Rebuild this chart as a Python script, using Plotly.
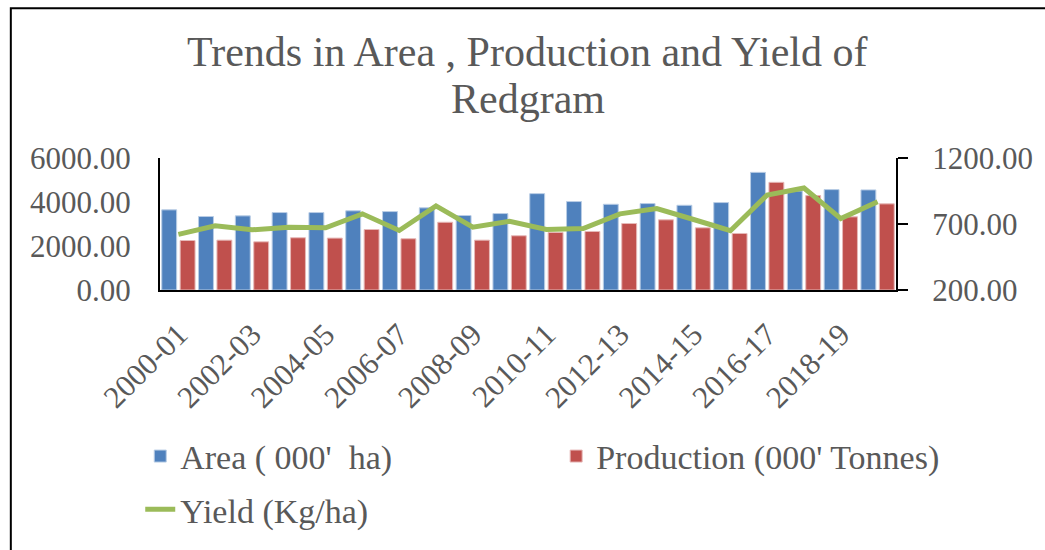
import plotly.graph_objects as go

years = ["2000-01", "2001-02", "2002-03", "2003-04", "2004-05", "2005-06", "2006-07",
         "2007-08", "2008-09", "2009-10", "2010-11", "2011-12", "2012-13", "2013-14",
         "2014-15", "2015-16", "2016-17", "2017-18", "2018-19", "2019-20"]
area = [3643, 3340, 3370, 3520, 3520, 3600, 3565, 3735, 3385, 3475,
        4380, 4020, 3897, 3928, 3851, 3974, 5347, 4500, 4563, 4550]
production = [2250, 2265, 2190, 2375, 2360, 2750, 2330, 3080, 2265, 2465,
              2615, 2660, 3022, 3190, 2827, 2569, 4894, 4290, 3325, 3915]
yield_kg = [621, 686, 656, 676, 671, 777, 651, 837, 676, 721,
            658, 666, 777, 817, 734, 649, 920, 973, 741, 868]
shown_ticks = years[::2]
title_lines = ["Trends in Area , Production and Yield of", "Redgram"]

FONT = "Liberation Serif"
GREY = "#595959"

W, H = 1045, 550
L, R, T, B = 160, 905, 158, 292


def px(x):
    return (x - L) / (R - L)


def py(y):
    return (B - y) / (B - T)


fig = go.Figure()
fig.add_trace(go.Bar(x=years, y=area, name="Area ( 000'  ha)",
                     marker=dict(color="#4F81BD", line=dict(color="#B9CDE5", width=1)),
                     legend="legend", showlegend=True))
fig.add_trace(go.Bar(x=years, y=production, name="Production (000' Tonnes)",
                     marker=dict(color="#C0504D", line=dict(color="#E6B9B8", width=1)),
                     legend="legend2", showlegend=True))
fig.add_trace(go.Scatter(x=years, y=yield_kg, name="Yield (Kg/ha)", yaxis="y2",
                         mode="lines", line=dict(color="#9BBB59", width=5),
                         legend="legend3", showlegend=True))

legend_common = dict(orientation="h", font=dict(family=FONT, size=34, color=GREY),
                     bgcolor="rgba(0,0,0,0)", yanchor="middle", xanchor="left")

title_ann = [dict(text=t, xref="paper", yref="paper", x=px(532), y=py(yc),
                  xanchor="center", yanchor="middle", showarrow=False,
                  font=dict(family=FONT, size=42, color=GREY))
             for t, yc in zip(title_lines, [50, 98])]

fig.update_layout(
    width=W, height=H,
    showlegend=True,
    margin=dict(l=L, r=W - R, t=T, b=H - B),
    paper_bgcolor="white", plot_bgcolor="white",
    barmode="group", bargap=0.0, bargroupgap=0.19,
    annotations=title_ann,
    font=dict(family=FONT, color=GREY),
    xaxis=dict(type="category", tickmode="array", tickvals=shown_ticks, ticktext=shown_ticks,
               tickangle=-45, tickfont=dict(family=FONT, size=31, color=GREY),
               showline=True, linecolor="black", linewidth=2, ticks="", showgrid=False,
               ticklabelstandoff=12),
    yaxis=dict(range=[0, 6000], tickvals=[0, 2000, 4000, 6000], tickformat=".2f",
               tickfont=dict(family=FONT, size=31, color=GREY),
               showline=True, linecolor="black", linewidth=2, showgrid=False,
               zeroline=False, ticks="", ticklabelstandoff=21),
    yaxis2=dict(range=[200, 1200], tickvals=[200, 700, 1200], tickformat=".2f",
                overlaying="y", side="right",
                tickfont=dict(family=FONT, size=31, color=GREY),
                showline=True, linecolor="black", linewidth=2, showgrid=False,
                zeroline=False, ticks="outside", ticklen=10, tickwidth=2, tickcolor="black",
                ticklabelstandoff=18),
    legend=dict(x=px(140), y=py(461), **legend_common),
    legend2=dict(x=px(561), y=py(461), **legend_common),
    legend3=dict(x=px(140), y=py(515), **legend_common),
    shapes=[dict(type="rect", xref="paper", yref="paper",
                 x0=px(9), x1=px(1080), y0=py(600), y1=py(6),
                 line=dict(color="black", width=2), fillcolor="rgba(0,0,0,0)", layer="below")],
)

fig.write_html("out.html", config={"displayModeBar": False},
               post_script="document.body.style.margin='0';document.body.style.overflow='hidden';")
